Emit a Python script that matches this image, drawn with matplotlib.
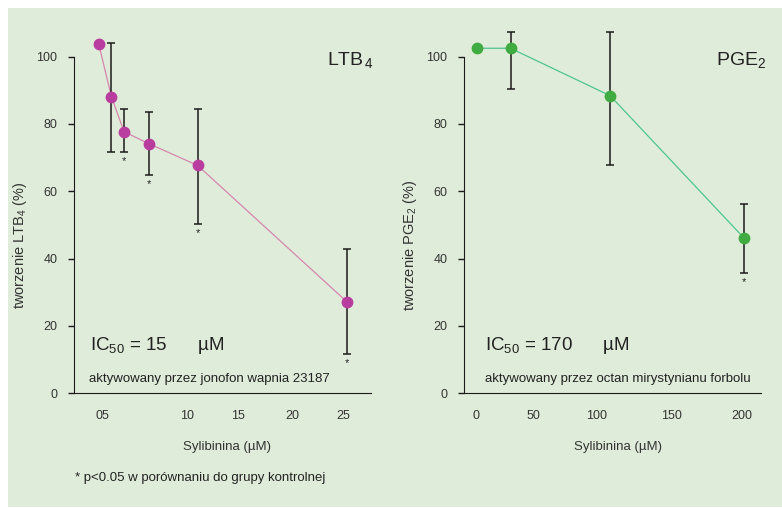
import matplotlib
matplotlib.use("Agg")
import matplotlib.pyplot as plt
from matplotlib.patches import Rectangle

plt.rcParams['font.family'] = ['Liberation Sans', 'DejaVu Sans']
plt.rcParams['mathtext.fontset'] = 'custom'
plt.rcParams['mathtext.rm'] = 'Liberation Sans'
plt.rcParams['mathtext.it'] = 'Liberation Sans'

# LTB4 panel
ltb_x = [1.6, 2.8, 4.0, 6.4, 11.0, 25.2]
ltb_y = [103.7, 88.1, 77.7, 74.1, 67.7, 27.2]
ltb_lo = [103.7, 71.6, 71.6, 64.7, 50.2, 11.6]
ltb_hi = [103.7, 104.2, 84.4, 83.7, 84.6, 42.8]
ltb_star = [False, False, True, True, True, True]
ltb_ticks = [1.9, 10, 14.8, 20, 24.9]
ltb_ticklabels = ['05', '10', '15', '20', '25']

# PGE2 panel
pge_x = [1, 26, 101, 202]
pge_y = [102.5, 102.5, 88.4, 46.0]
pge_lo = [102.5, 90.3, 67.7, 35.6]
pge_hi = [102.5, 107.4, 107.4, 56.1]
pge_star = [False, False, False, True]
pge_ticks = [0, 43, 91, 147, 200]
pge_ticklabels = ['0', '50', '100', '150', '200']

bg = '#e0ecda'

fig = plt.figure(figsize=(7.82, 5.08), dpi=100)
fig.patches.append(Rectangle((8/782, 1/508), 1, 499/508, transform=fig.transFigure,
                             facecolor=bg, edgecolor='none', zorder=-10))


def panel(ax, x, y, lo, hi, star, ticks, ticklabels, xlim, mcol, lcol):
    ax.set_facecolor('none')
    ax.plot(x, y, '-', color=lcol, lw=0.9, zorder=2)
    ylo = [a - b for a, b in zip(y, lo)]
    yhi = [b - a for a, b in zip(y, hi)]
    ax.errorbar(x, y, yerr=[ylo, yhi], fmt='none', ecolor='#1a1a1a',
                elinewidth=1.1, capsize=3.2, capthick=1.1, zorder=3)
    ax.plot(x, y, 'o', color=mcol, ms=8.5, mec='none', zorder=4, clip_on=False)
    for xi, l, s in zip(x, lo, star):
        if s:
            ax.annotate('*', (xi, l), xytext=(0, -6), textcoords='offset points',
                        ha='center', va='center', fontsize=8, color='#222222')
    ax.set_xlim(*xlim)
    ax.set_ylim(0, 110)
    ax.set_yticks([0, 20, 40, 60, 80, 100])
    ax.set_xticks(ticks)
    ax.set_xticklabels(ticklabels)
    for s in ['top', 'right']:
        ax.spines[s].set_visible(False)
    ax.spines['left'].set_bounds(0, 100)
    ax.spines['left'].set_color('#1a1a1a')
    ax.spines['bottom'].set_color('#1a1a1a')
    ax.tick_params(axis='y', length=4.5, width=1, pad=7.5, labelsize=9,
                   colors='#1a1a1a', labelcolor='#333333')
    ax.tick_params(axis='x', length=0, pad=12, labelsize=9, labelcolor='#333333')


ax1 = fig.add_axes([74/782, 114.7/508, 297/782, 370.3/508])
panel(ax1, ltb_x, ltb_y, ltb_lo, ltb_hi, ltb_star, ltb_ticks, ltb_ticklabels,
      (-0.76, 27.5), '#b83d9e', '#d487ae')
ax1.set_ylabel('tworzenie LTB$_4$ (%)', fontsize=10.5, color='#333333')
ax1.yaxis.set_label_coords(-0.15, 0.40)
ax1.set_xlabel('Sylibinina (µM)', fontsize=9.5, color='#333333')
ax1.xaxis.set_label_coords(0.515, -0.13)
ax1.text(0.852, 0.887, 'LTB$_{\\,4}$', transform=ax1.transAxes, fontsize=14, color='#222222')
ax1.text(0.054, 0.117, 'IC$_{50}$ = 15      µM', transform=ax1.transAxes, fontsize=13.5, color='#222222')
ax1.text(0.05, 0.031, 'aktywowany przez jonofon wapnia 23187', transform=ax1.transAxes,
         fontsize=9.5, color='#222222')

ax2 = fig.add_axes([464/782, 114.7/508, 297/782, 370.3/508])
panel(ax2, pge_x, pge_y, pge_lo, pge_hi, pge_star, pge_ticks, pge_ticklabels,
      (-9.0, 214.5), '#3fab40', '#4cc68c')
ax2.set_ylabel('tworzenie PGE$_2$ (%)', fontsize=10.5, color='#333333')
ax2.yaxis.set_label_coords(-0.15, 0.40)
ax2.set_xlabel('Sylibinina (µM)', fontsize=9.5, color='#333333')
ax2.xaxis.set_label_coords(0.518, -0.13)
ax2.text(0.848, 0.887, 'PGE$_2$', transform=ax2.transAxes, fontsize=14, color='#222222')
ax2.text(0.071, 0.117, 'IC$_{50}$ = 170      µM', transform=ax2.transAxes, fontsize=13.5, color='#222222')
ax2.text(0.071, 0.031, 'aktywowany przez octan mirystynianu forbolu', transform=ax2.transAxes,
         fontsize=9.5, color='#222222')

fig.text(75/782, 27/508, '* p<0.05 w porównaniu do grupy kontrolnej', fontsize=9.5, color='#222222')

fig.savefig('out.png', dpi=100)
